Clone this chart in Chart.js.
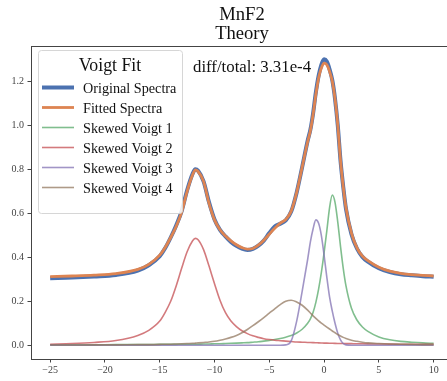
<!DOCTYPE html>
<html>
<head>
<meta charset="utf-8">
<script src="https://cdn.jsdelivr.net/npm/chart.js@4.4.1/dist/chart.umd.min.js"></script>
<style>
  html, body { margin: 0; padding: 0; background: #fff; }
  #wrap { width: 447px; height: 381px; overflow: hidden; }
</style>
</head>
<body>
<div id="wrap"><canvas id="voigt-chart" width="447" height="381"></canvas></div>
<script>
// Energia relativa (asse x) e intensità
const xValues = [-25, -23, -21, -19, -17, -16, -15, -14.5, -14, -13.5, -13, -12.5, -12, -11.75, -11.5,
  -11, -10.5, -10, -9.5, -9, -8.5, -8, -7.5, -7, -6.5, -6, -5.5, -5, -4.5, -4, -3.5, -3, -2.5, -2, -1.5,
  -1.25, -1, -0.75, -0.5, -0.25, 0, 0.25, 0.5, 0.75, 1, 1.25, 1.5, 1.75, 2, 2.5, 3, 3.5, 4, 5, 6, 7, 8, 9, 10];

const originalSpectra = [0.305, 0.308, 0.313, 0.320, 0.340, 0.364, 0.405, 0.442, 0.490, 0.545, 0.610, 0.705, 0.780, 0.800, 0.793,
  0.745, 0.650, 0.572, 0.525, 0.495, 0.470, 0.452, 0.439, 0.433, 0.438, 0.453, 0.476, 0.510, 0.540, 0.553, 0.568, 0.608, 0.695, 0.810, 0.930,
  0.980, 1.055, 1.150, 1.225, 1.275, 1.300, 1.290, 1.255, 1.205, 1.120, 1.000, 0.840, 0.720, 0.620, 0.505, 0.440, 0.402, 0.380, 0.350, 0.333, 0.323, 0.318, 0.314, 0.312];

const fittedSpectra = [0.312, 0.315, 0.319, 0.326, 0.345, 0.368, 0.410, 0.445, 0.490, 0.540, 0.605, 0.700, 0.775, 0.797, 0.790,
  0.745, 0.645, 0.570, 0.525, 0.497, 0.475, 0.457, 0.444, 0.437, 0.440, 0.455, 0.478, 0.505, 0.532, 0.555, 0.572, 0.610, 0.695, 0.810, 0.925,
  0.975, 1.050, 1.140, 1.215, 1.260, 1.283, 1.275, 1.245, 1.200, 1.120, 1.000, 0.840, 0.720, 0.625, 0.510, 0.443, 0.405, 0.385, 0.355, 0.337, 0.327, 0.321, 0.318, 0.315];

const skewedVoigt1 = [0.002, 0.002, 0.002, 0.003, 0.003, 0.003, 0.004, 0.004, 0.004, 0.004, 0.005, 0.005, 0.005, 0.005, 0.005,
  0.006, 0.006, 0.007, 0.007, 0.008, 0.009, 0.010, 0.011, 0.012, 0.014, 0.016, 0.019, 0.022, 0.026, 0.031, 0.037, 0.044, 0.056, 0.073, 0.100,
  0.120, 0.150, 0.195, 0.255, 0.330, 0.420, 0.520, 0.625, 0.683, 0.650, 0.560, 0.450, 0.350, 0.270, 0.168, 0.115, 0.083, 0.063, 0.038, 0.025, 0.018, 0.014, 0.011, 0.009];

const skewedVoigt2 = [0.005, 0.008, 0.013, 0.022, 0.045, 0.068, 0.110, 0.150, 0.200, 0.270, 0.350, 0.425, 0.475, 0.486, 0.480,
  0.435, 0.360, 0.280, 0.205, 0.148, 0.110, 0.085, 0.066, 0.053, 0.043, 0.036, 0.030, 0.026, 0.023, 0.021, 0.019, 0.017, 0.015, 0.014, 0.013,
  0.0125, 0.012, 0.0115, 0.011, 0.0105, 0.010, 0.0097, 0.0094, 0.0091, 0.0088, 0.0085, 0.0082, 0.008, 0.0078, 0.0074, 0.007, 0.0067, 0.0064, 0.0058, 0.0053, 0.0049, 0.0045, 0.0042, 0.004];

const skewedVoigt3 = [0, 0, 0, 0, 0, 0, 0, 0, 0, 0, 0, 0, 0, 0, 0,
  0, 0, 0, 0, 0, 0, 0, 0, 0, 0, 0, 0, 0, 0, 0, 0.002, 0.020, 0.110, 0.245, 0.390,
  0.470, 0.530, 0.570, 0.555, 0.500, 0.410, 0.310, 0.220, 0.155, 0.100, 0.055, 0.025, 0.008, 0.002, 0, 0, 0, 0, 0, 0, 0, 0, 0, 0];

const skewedVoigt4 = [0.001, 0.001, 0.002, 0.002, 0.003, 0.003, 0.004, 0.005, 0.005, 0.006, 0.007, 0.008, 0.009, 0.010, 0.011,
  0.013, 0.015, 0.018, 0.023, 0.029, 0.036, 0.045, 0.057, 0.072, 0.089, 0.107, 0.126, 0.146, 0.166, 0.185, 0.200, 0.205, 0.197, 0.182, 0.160,
  0.147, 0.134, 0.122, 0.111, 0.101, 0.092, 0.083, 0.074, 0.065, 0.057, 0.049, 0.042, 0.036, 0.031, 0.023, 0.018, 0.014, 0.011, 0.008, 0.006, 0.005, 0.004, 0.003, 0.003];

const seriesNames = ['Original Spectra', 'Fitted Spectra', 'Skewed Voigt 1', 'Skewed Voigt 2', 'Skewed Voigt 3', 'Skewed Voigt 4'];
const seriesValues = [originalSpectra, fittedSpectra, skewedVoigt1, skewedVoigt2, skewedVoigt3, skewedVoigt4];
const seriesColors = ['#4c72b0', '#dd8452', 'rgba(85,168,104,0.75)', 'rgba(196,78,82,0.75)', 'rgba(129,114,179,0.75)', 'rgba(147,120,96,0.75)'];
const seriesWidths = [4, 2.8, 1.6, 1.6, 1.6, 1.6];

const xTicks = [-25, -20, -15, -10, -5, 0, 5, 10];
const yTicks = [0, 0.2, 0.4, 0.6, 0.8, 1.0, 1.2];
const titleLines = ['MnF2', 'Theory'];
const legendTitle = 'Voigt Fit';
const annotationText = 'diff/total: 3.31e-4';

const SERIF = "'Liberation Serif', 'Times New Roman', serif";
const AXIS_COLOR = '#444';

// Disegna cornice superiore, titolo, annotazione e legenda
const overlayPlugin = {
  id: 'overlay',
  afterDatasetsDraw(chart) {
    const { ctx, chartArea: a } = chart;
    ctx.save();

    // bordo superiore degli assi
    ctx.strokeStyle = AXIS_COLOR;
    ctx.lineWidth = 1;
    ctx.beginPath();
    ctx.moveTo(a.left, a.top + 0.5);
    ctx.lineTo(a.right, a.top + 0.5);
    ctx.stroke();

    // titolo
    ctx.fillStyle = '#111';
    ctx.textAlign = 'center';
    ctx.textBaseline = 'alphabetic';
    ctx.font = `18.6px ${SERIF}`;
    ctx.fillText(titleLines[0], 242, 20);
    ctx.fillText(titleLines[1], 242, 39);

    // annotazione
    ctx.textAlign = 'left';
    ctx.font = `16.8px ${SERIF}`;
    ctx.fillText(annotationText, 193, 72);

    // riquadro legenda
    const bx = 38.5, by = 50.5, bw = 144, bh = 163, r = 3;
    ctx.beginPath();
    ctx.moveTo(bx + r, by);
    ctx.arcTo(bx + bw, by, bx + bw, by + bh, r);
    ctx.arcTo(bx + bw, by + bh, bx, by + bh, r);
    ctx.arcTo(bx, by + bh, bx, by, r);
    ctx.arcTo(bx, by, bx + bw, by, r);
    ctx.closePath();
    ctx.fillStyle = 'rgba(255,255,255,0.85)';
    ctx.fill();
    ctx.strokeStyle = '#d6d6d6';
    ctx.stroke();

    ctx.fillStyle = '#111';
    ctx.textAlign = 'center';
    ctx.font = `17.8px ${SERIF}`;
    ctx.fillText(legendTitle, 110, 71);

    ctx.textAlign = 'left';
    ctx.font = `14.2px ${SERIF}`;
    seriesNames.forEach((name, i) => {
      const y = 87.5 + 20 * i;
      ctx.strokeStyle = seriesColors[i];
      ctx.lineWidth = seriesWidths[i];
      ctx.beginPath();
      ctx.moveTo(42, y);
      ctx.lineTo(74, y);
      ctx.stroke();
      ctx.fillStyle = '#111';
      ctx.fillText(name, 83, y + 5);
    });

    ctx.restore();
  }
};

const datasets = seriesNames.map((name, i) => ({
  label: name,
  data: xValues.map((x, k) => ({ x: x, y: seriesValues[i][k] })),
  borderColor: seriesColors[i],
  borderWidth: seriesWidths[i],
  order: seriesNames.length - 1 - i, // le componenti sopra, come in matplotlib
  pointRadius: 0,
  fill: false
}));

const tickFont = { family: SERIF, size: 10 };

new Chart(document.getElementById('voigt-chart').getContext('2d'), {
  type: 'line',
  data: { datasets: datasets },
  options: {
    responsive: false,
    animation: false,
    layout: { padding: { top: 46, right: 0, bottom: 0, left: 0 } },
    elements: { line: { cubicInterpolationMode: 'monotone' } },
    plugins: {
      legend: { display: false },
      tooltip: { enabled: false }
    },
    scales: {
      x: {
        type: 'linear',
        min: -26.75,
        max: 11.22,
        afterFit: (s) => { s.height = 22; },
        afterBuildTicks: (s) => { s.ticks = xTicks.map(v => ({ value: v })); },
        ticks: {
          autoSkip: false,
          maxRotation: 0,
          padding: 2,
          color: AXIS_COLOR,
          font: tickFont,
          callback: (v) => String(v).replace('-', '\u2212')
        },
        grid: { drawOnChartArea: false, tickLength: 3.5, color: AXIS_COLOR },
        border: { color: AXIS_COLOR }
      },
      y: {
        min: -0.0623,
        max: 1.3605,
        afterFit: (s) => { s.width = 31; },
        afterBuildTicks: (s) => { s.ticks = yTicks.map(v => ({ value: v })); },
        ticks: {
          autoSkip: false,
          padding: 3.5,
          color: AXIS_COLOR,
          font: tickFont,
          callback: (v) => v.toFixed(1)
        },
        grid: { drawOnChartArea: false, tickLength: 3.5, color: AXIS_COLOR },
        border: { color: AXIS_COLOR }
      }
    }
  },
  plugins: [overlayPlugin]
});
</script>
</body>
</html>
